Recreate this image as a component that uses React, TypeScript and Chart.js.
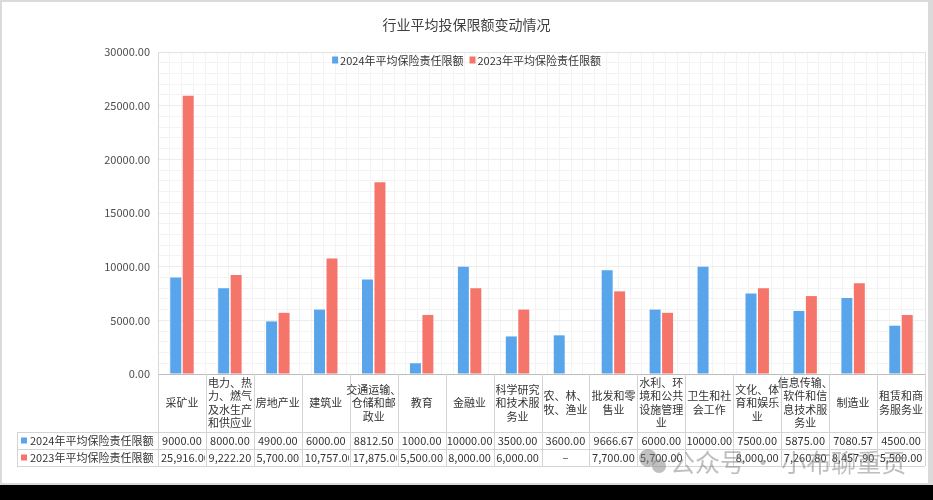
import { useEffect, useRef } from 'react';
import { Chart, registerables } from 'chart.js';

Chart.register(...registerables);

const TITLE = '行业平均投保限额变动情况';
const categories = [
  '采矿业',
  '电力、热力、燃气及水生产和供应业',
  '房地产业',
  '建筑业',
  '交通运输、仓储和邮政业',
  '教育',
  '金融业',
  '科学研究和技术服务业',
  '农、林、牧、渔业',
  '批发和零售业',
  '水利、环境和公共设施管理业',
  '卫生和社会工作',
  '文化、体育和娱乐业',
  '信息传输、软件和信息技术服务业',
  '制造业',
  '租赁和商务服务业',
];
const seriesNames = ['2024年平均保险责任限额', '2023年平均保险责任限额'];
const values2024 = [9000, 8000, 4900, 6000, 8812.5, 1000, 10000, 3500, 3600, 9666.67, 6000, 10000, 7500, 5875, 7080.57, 4500];
const values2023: (number | null)[] = [25916, 9222.2, 5700, 10757, 17875, 5500, 8000, 6000, 0, 7700, 5700, null, 8000, 7260.8, 8457.9, 5500];
const yMin = 0;
const yMax = 30000;
const yStep = 5000;
const yMinorStep = 1000;
const WATERMARK = '公众号 · 小布聊重贡';

const COLORS = ['#58a5eb', '#f6756a'];
const FONT = '"Noto Sans CJK SC", "Noto Sans", sans-serif';

function wrapLabel(s: string): string[] {
  const lines: string[] = [];
  let cur = '';
  for (const ch of Array.from(s)) {
    if (cur.length >= 4 && ch !== '、') {
      lines.push(cur);
      cur = '';
    }
    cur += ch;
  }
  if (cur) lines.push(cur);
  return lines;
}

function fmtPlain(v: number | null): string {
  if (v === null || v === undefined) return '';
  return v.toFixed(2);
}

function fmtAcct(v: number | null): string {
  if (v === null || v === undefined) return '';
  if (v === 0) return '–';
  return v.toLocaleString('en-US', { minimumFractionDigits: 2, maximumFractionDigits: 2 });
}

const tablePlugin = {
  id: 'tablePlugin',
  beforeDatasetsDraw(chart: any) {
    const { ctx, chartArea } = chart;
    ctx.save();
    ctx.strokeStyle = '#e2e2e2';
    ctx.lineWidth = 1;
    ctx.beginPath();
    ctx.moveTo(chartArea.left, Math.round(chartArea.top) + 0.5);
    ctx.lineTo(chartArea.right, Math.round(chartArea.top) + 0.5);
    ctx.moveTo(Math.round(chartArea.right) + 0.5, chartArea.top);
    ctx.lineTo(Math.round(chartArea.right) + 0.5, chartArea.bottom);
    ctx.stroke();
    ctx.restore();
  },
  afterDraw(chart: any) {
    const { ctx, chartArea } = chart;
    const xs = chart.scales.x;
    const n = chart.data.labels.length;
    const catW = (xs.right - xs.left) / n;
    const top = chartArea.bottom;
    const headBottom = top + 58;
    const row1Bottom = headBottom + 17;
    const row2Bottom = row1Bottom + 17;
    const labelLeft = 17;
    const bounds: number[] = [];
    for (let i = 0; i < n; i++) bounds.push(xs.getPixelForValue(i) - catW / 2);
    bounds.push(xs.getPixelForValue(n - 1) + catW / 2);

    ctx.save();
    // table grid lines
    ctx.strokeStyle = '#d4d4d4';
    ctx.lineWidth = 1;
    ctx.beginPath();
    for (const b of bounds) {
      const x = Math.round(b) + 0.5;
      ctx.moveTo(x, top);
      ctx.lineTo(x, row2Bottom);
    }
    ctx.moveTo(labelLeft + 0.5, headBottom);
    ctx.lineTo(labelLeft + 0.5, row2Bottom);
    for (const y of [headBottom, row1Bottom, row2Bottom]) {
      ctx.moveTo(labelLeft, Math.round(y) + 0.5);
      ctx.lineTo(bounds[n], Math.round(y) + 0.5);
    }
    ctx.stroke();

    // header labels (categories)
    ctx.fillStyle = '#333333';
    ctx.font = `11px ${FONT}`;
    ctx.textBaseline = 'middle';
    ctx.textAlign = 'center';
    const lh = 13.5;
    chart.data.labels.forEach((lab: string, i: number) => {
      const lines = wrapLabel(lab);
      const cx = xs.getPixelForValue(i);
      const cy = (top + headBottom) / 2;
      const y0 = cy - ((lines.length - 1) * lh) / 2;
      lines.forEach((ln, k) => ctx.fillText(ln, cx, y0 + k * lh));
    });

    // data rows
    const rows = [
      { yc: (headBottom + row1Bottom) / 2, fmt: fmtPlain },
      { yc: (row1Bottom + row2Bottom) / 2, fmt: fmtAcct },
    ];
    chart.data.datasets.forEach((ds: any, d: number) => {
      const { yc, fmt } = rows[d];
      ctx.fillStyle = ds.backgroundColor;
      ctx.fillRect(21, yc - 3, 6, 6);
      ctx.fillStyle = '#333333';
      ctx.font = `11px ${FONT}`;
      ctx.textAlign = 'left';
      ctx.fillText(ds.label, 30, yc + 0.5);
      ds.data.forEach((v: number | null, i: number) => {
        const text = fmt(v);
        if (!text) return;
        const x0 = bounds[i];
        const x1 = bounds[i + 1];
        const w = ctx.measureText(text).width;
        ctx.save();
        ctx.beginPath();
        ctx.rect(x0 + 1, yc - 9, x1 - x0 - 2, 18);
        ctx.clip();
        if (w <= x1 - x0) {
          ctx.textAlign = 'center';
          ctx.fillText(text, (x0 + x1) / 2, yc + 0.5);
        } else {
          ctx.textAlign = 'left';
          ctx.fillText(text, x0 + 3, yc + 0.5);
        }
        ctx.restore();
      });
    });

    // legend inside the plot area
    ctx.font = `11px ${FONT}`;
    ctx.textAlign = 'left';
    const ly = chartArea.top + 8;
    const sq = 6;
    const widths = chart.data.datasets.map((ds: any) => ctx.measureText(ds.label).width);
    const gap = 6;
    let total = 0;
    widths.forEach((w: number, i: number) => {
      total += sq + 2 + w + (i < widths.length - 1 ? gap : 0);
    });
    let lx = chart.width / 2 - total / 2;
    chart.data.datasets.forEach((ds: any, i: number) => {
      ctx.fillStyle = ds.backgroundColor;
      ctx.fillRect(lx, ly - 3.5, sq, 7);
      ctx.fillStyle = '#333333';
      ctx.fillText(ds.label, lx + sq + 2, ly + 0.5);
      lx += sq + 2 + widths[i] + gap;
    });

    // title
    ctx.font = `14px ${FONT}`;
    ctx.textAlign = 'center';
    ctx.fillStyle = '#404040';
    ctx.fillText(TITLE, chart.width / 2, 25);

    // watermark
    ctx.fillStyle = 'rgba(130,130,130,0.5)';
    ctx.beginPath();
    ctx.arc(648, 458, 9, 0, Math.PI * 2);
    ctx.fill();
    ctx.beginPath();
    ctx.arc(659, 466, 7, 0, Math.PI * 2);
    ctx.fill();
    ctx.font = `25px ${FONT}`;
    ctx.textAlign = 'left';
    ctx.fillStyle = 'rgba(125,125,125,0.5)';
    ctx.fillText(WATERMARK, 670, 462);
    ctx.restore();
  },
};

export default function App() {
  const ref = useRef<HTMLCanvasElement | null>(null);
  useEffect(() => {
    if (!ref.current) return;
    const chart = new Chart(ref.current, {
      type: 'bar',
      data: {
        labels: categories,
        datasets: [
          {
            label: seriesNames[0],
            data: values2024,
            backgroundColor: COLORS[0],
            categoryPercentage: 0.52,
            barPercentage: 0.88,
          },
          {
            label: seriesNames[1],
            data: values2023,
            backgroundColor: COLORS[1],
            categoryPercentage: 0.52,
            barPercentage: 0.88,
          },
        ],
      },
      options: {
        responsive: false,
        animation: false,
        layout: { padding: { left: 0, top: 52, right: 8, bottom: 126 } },
        plugins: {
          legend: { display: false },
          title: { display: false },
          tooltip: { enabled: false },
        },
        scales: {
          x: {
            type: 'category',
            ticks: { display: false },
            grid: { display: false },
            border: { display: true, color: '#bdbdbd' },
            afterFit: (s: any) => {
              s.height = 0;
            },
          },
          xMinor: {
            type: 'linear',
            position: 'top',
            min: 0,
            max: 64,
            ticks: { display: false, stepSize: 1 },
            grid: { color: '#f3f3f3', drawTicks: false },
            border: { display: false },
            afterFit: (s: any) => {
              s.height = 0;
            },
          },
          yMinor: {
            type: 'linear',
            position: 'left',
            min: yMin,
            max: yMax,
            ticks: { display: false, stepSize: yMinorStep },
            grid: { color: '#f3f3f3', drawTicks: false },
            border: { display: false },
            afterFit: (s: any) => {
              s.width = 0;
            },
          },
          y: {
            type: 'linear',
            min: yMin,
            max: yMax,
            ticks: {
              stepSize: yStep,
              padding: 8,
              color: '#4d4d4d',
              font: { family: FONT, size: 11 },
              callback: (v: any) => Number(v).toFixed(2),
            },
            grid: { color: '#ececec', drawTicks: false },
            border: { display: true, color: '#d9d9d9' },
            afterFit: (s: any) => {
              s.width = 158;
            },
          },
        },
      },
      plugins: [tablePlugin],
    });
    return () => chart.destroy();
  }, []);

  return (
    <div style={{ position: 'fixed', left: 0, top: 0, width: 933, height: 500, background: '#000' }}>
      <div style={{ position: 'absolute', left: 0, top: 0, width: 933, height: 485, background: '#dadada' }} />
      <div style={{ position: 'absolute', left: 2, top: 2, width: 926, height: 481, background: '#ffffff' }} />
      <canvas ref={ref} width={933} height={500} style={{ position: 'absolute', left: 0, top: 0, width: 933, height: 500 }} />
    </div>
  );
}
